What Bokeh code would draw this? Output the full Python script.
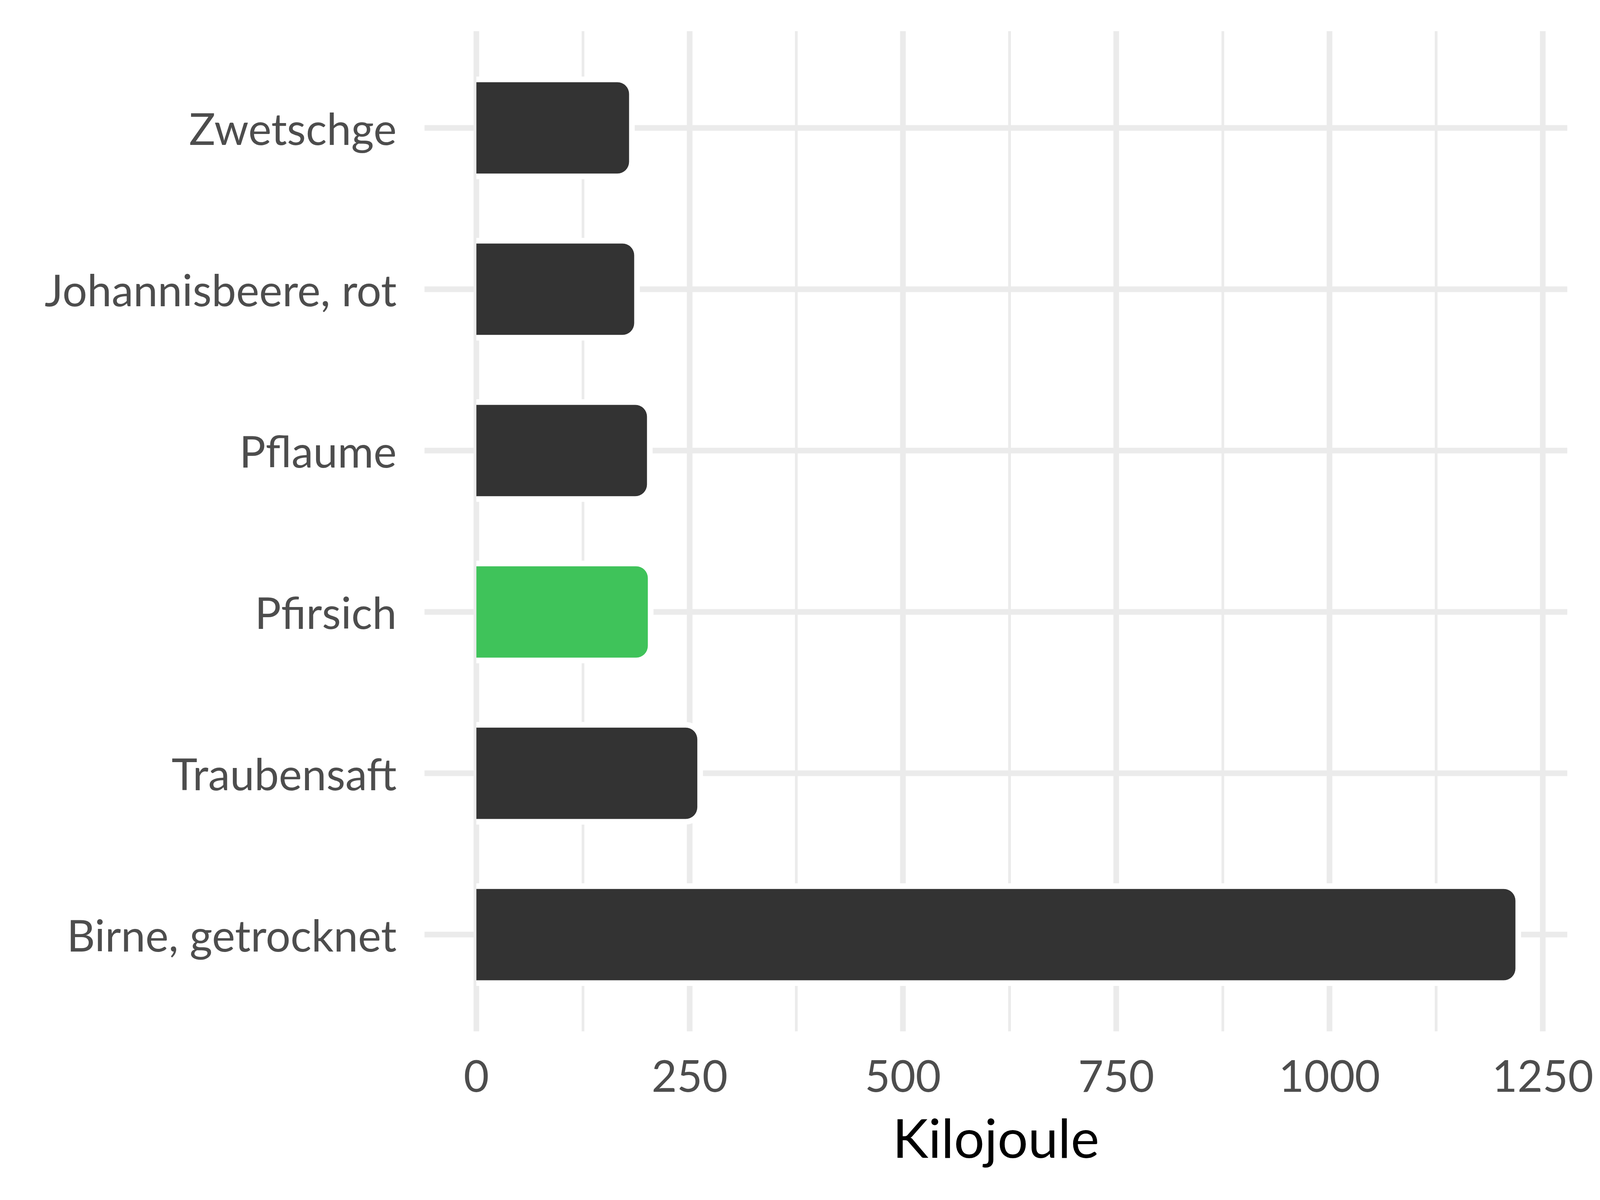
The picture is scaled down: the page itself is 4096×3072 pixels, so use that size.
from bokeh.plotting import figure
from bokeh.models import Range1d, FixedTicker, ColumnDataSource
from bokeh.embed import file_html
from bokeh.resources import INLINE

# ---- data (top to bottom as shown) ----
foods = ["Zwetschge", "Johannisbeere, rot", "Pflaume", "Pfirsich", "Traubensaft", "Birne, getrocknet"]
kilojoule = [179, 185, 200, 201, 259, 1218]
highlight = "Pfirsich"
x_ticks = [0, 250, 500, 750, 1000, 1250]
x_minor = [125, 375, 625, 875, 1125]
x_title = "Kilojoule"

BAR_COLOR = "#333333"
HI_COLOR = "#3FC35A"
GRID = "#EBEBEB"
FONT = "Lato"

n = len(foods)
ypos = [n - i for i in range(n)]
colors = [HI_COLOR if f == highlight else BAR_COLOR for f in foods]
vmax = max(kilojoule)
pad = 0.05 * vmax

src = ColumnDataSource(dict(y=ypos, v=kilojoule, vh=[v + 6.6 for v in kilojoule], c=colors))

W, H = 4080, 3056
p = figure(width=W, height=H, output_backend="svg", toolbar_location=None,
           x_range=Range1d(-pad, vmax + pad), y_range=Range1d(0.4, n + 0.6),
           min_border_left=1086, min_border_right=68, min_border_top=79, min_border_bottom=416)
p.outline_line_color = None
p.background_fill_color = "white"
p.border_fill_color = "white"

# white halo (cuts gridlines like the reference)
p.hbar(y="y", left=0, right="vh", height=0.636, source=src, fill_color="white",
       line_color=None, border_radius=(0, 44, 44, 0))
p.hbar(y="y", left=0, right="v", height=0.566, source=src, fill_color="c",
       line_color=None, border_radius=(0, 30, 30, 0))

# axes
p.xaxis.ticker = FixedTicker(ticks=x_ticks, minor_ticks=x_minor)
p.yaxis.ticker = FixedTicker(ticks=ypos)
p.yaxis.major_label_overrides = {y: f for y, f in zip(ypos, foods)}

for ax in (p.xaxis[0], p.yaxis[0]):
    ax.axis_line_color = None
    ax.major_tick_line_color = None
    ax.minor_tick_line_color = None
    ax.major_tick_out = 0
    ax.major_tick_in = 0
    ax.minor_tick_out = 0
    ax.major_label_text_font = FONT
    ax.major_label_text_font_size = "112px"
    ax.major_label_text_color = "#4D4D4D"

p.yaxis.major_label_standoff = 71
p.xaxis.major_label_standoff = 73
p.xaxis.axis_label = x_title
p.xaxis.axis_label_text_font = FONT
p.xaxis.axis_label_text_font_size = "138px"
p.xaxis.axis_label_text_font_style = "normal"
p.xaxis.axis_label_text_color = "black"
p.xaxis.axis_label_standoff = 30

# grids
p.xgrid.ticker = FixedTicker(ticks=x_ticks, minor_ticks=x_minor)
p.xgrid.grid_line_color = GRID
p.xgrid.grid_line_width = 14.5
p.xgrid.minor_grid_line_color = GRID
p.xgrid.minor_grid_line_width = 7
p.ygrid.ticker = FixedTicker(ticks=ypos)
p.ygrid.grid_line_color = GRID
p.ygrid.grid_line_width = 14.5

open("out.html", "w").write(file_html(p, INLINE))
